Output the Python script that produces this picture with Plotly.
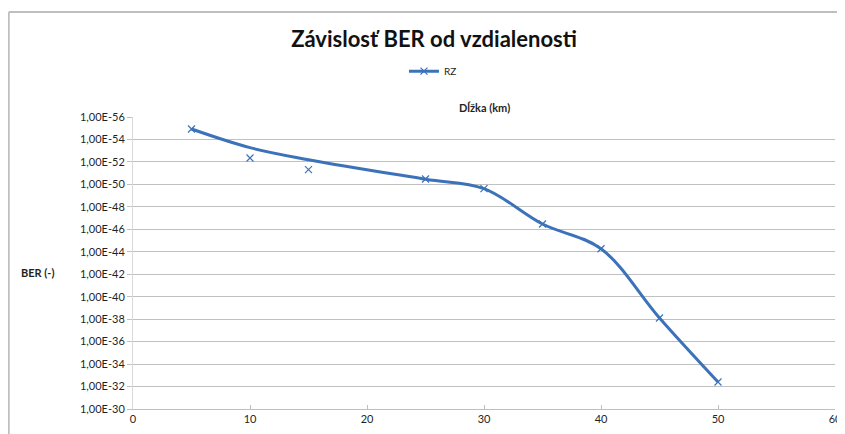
import plotly.graph_objects as go

# data
dlzka_km = [5, 10, 15, 25, 30, 35, 40, 45, 50]
ber_body = [1.17e-55, 4.47e-53, 4.9e-52, 3.31e-51, 2.4e-50, 3.39e-47, 5.37e-45, 7.94e-39, 3.98e-33]
# smoothed curve as drawn (passes above the points at 10 and 15 km)
ber_krivka = [1.17e-55, 5.37e-54, 6.31e-53, 3.5e-51, 2.4e-50, 3.39e-47, 5.37e-45, 7.94e-39, 3.98e-33]

y_tick_vals = [1e-56, 1e-54, 1e-52, 1e-50, 1e-48, 1e-46, 1e-44, 1e-42, 1e-40,
               1e-38, 1e-36, 1e-34, 1e-32, 1e-30]
y_tick_text = ["1,00E-56", "1,00E-54", "1,00E-52", "1,00E-50", "1,00E-48", "1,00E-46",
               "1,00E-44", "1,00E-42", "1,00E-40", "1,00E-38", "1,00E-36", "1,00E-34",
               "1,00E-32", "1,00E-30"]
x_tick_vals = [0, 10, 20, 30, 40, 50, 60]

blue = "#3b72b9"
font_family = "Lato, 'Open Sans', sans-serif"

fig = go.Figure()
fig.add_trace(go.Scatter(
    x=dlzka_km, y=ber_krivka, mode="lines",
    line=dict(color=blue, width=3, shape="spline", smoothing=1.0),
    showlegend=False, hoverinfo="skip"))
fig.add_trace(go.Scatter(
    x=dlzka_km, y=ber_body, mode="markers",
    marker=dict(symbol="x-thin", size=7, line=dict(color=blue, width=1.2), color=blue),
    showlegend=False))
fig.add_trace(go.Scatter(
    x=[None], y=[None], mode="lines+markers", name="RZ",
    line=dict(color=blue, width=3),
    marker=dict(symbol="x-thin", size=7, line=dict(color=blue, width=1.2), color=blue)))

fig.update_layout(
    width=837, height=426,
    margin=dict(l=125, r=10, t=109, b=25, autoexpand=False),
    paper_bgcolor="white", plot_bgcolor="white",
    font=dict(family=font_family, size=11, color="#1f1f1f"),
    title=dict(text="<b>Závislosť BER od vzdialenosti</b>", x=0.509, xanchor="center",
               y=0.927, yanchor="middle", font=dict(size=22, color="#111111")),
    legend=dict(orientation="h", x=0.386, xanchor="left", y=1.157, yanchor="middle",
                font=dict(size=10), itemwidth=30, bgcolor="rgba(0,0,0,0)"),
    xaxis=dict(range=[0, 60], tickvals=x_tick_vals, showgrid=False, zeroline=False,
               showline=True, linecolor="#bfbfbf", linewidth=1, automargin=False,
               ticks="inside", ticklen=4, tickcolor="#bfbfbf",
               tickfont=dict(size=11)),
    yaxis=dict(type="log", range=[-30, -56], tickvals=y_tick_vals, ticktext=y_tick_text,
               showgrid=True, gridcolor="#c0c0c0", gridwidth=1, automargin=False,
               showline=True, linecolor="#d9d9d9", linewidth=1,
               ticks="outside", ticklen=5, tickcolor="#c0c0c0",
               tickfont=dict(size=11), zeroline=False),
    annotations=[
        dict(text="<b>Dĺžka (km)</b>", xref="paper", yref="paper", x=0.501, y=1.031,
             xanchor="center", yanchor="middle", showarrow=False, font=dict(size=11)),
        dict(text="<b>BER (-)</b>", xref="paper", yref="paper", x=-0.136, y=0.466,
             xanchor="center", yanchor="middle", showarrow=False, font=dict(size=11)),
    ],
    shapes=[
        dict(type="line", xref="paper", yref="paper", x0=-0.177, x1=1.02, y0=1.36, y1=1.36,
             line=dict(color="#bfbfbf", width=2)),
        dict(type="line", xref="paper", yref="paper", x0=-0.177, x1=-0.177, y0=-0.1, y1=1.36,
             line=dict(color="#bfbfbf", width=2)),
    ],
)

fig.write_html("out.html")
